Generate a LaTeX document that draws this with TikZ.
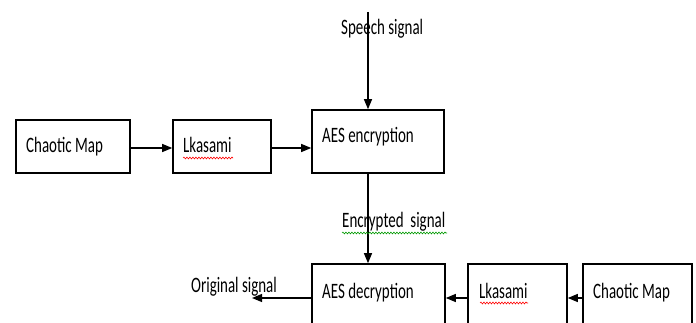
\documentclass[tikz,border=0pt]{standalone}
\usepackage{fontspec}
\setmainfont{Carlito}[FakeStretch=0.68]
\usetikzlibrary{arrows.meta,decorations.pathmorphing}
\begin{document}
\begin{tikzpicture}[x=1pt,y=-1pt,
  blk/.style={draw,line width=1.6pt,inner sep=0pt},
  lbl/.style={anchor=base west,inner sep=0pt,font=\fontsize{22}{24}\selectfont},
  conn/.style={line width=1.2pt,-{Triangle[length=10pt,width=8pt]}},
  wavy/.style={decorate,decoration={snake,amplitude=0.9pt,segment length=3pt},line width=0.6pt}]
\useasboundingbox (0,0) rectangle (696,323);
\clip (0,0) rectangle (696,323);
% upper boxes
\node[blk,minimum width=114pt,minimum height=53pt] (cm1) at (73,146.5) {};
\node[blk,minimum width=98pt,minimum height=53pt] (lk1) at (222,146.5) {};
\node[blk,minimum width=132pt,minimum height=63pt] (enc) at (378,141.5) {};
% lower boxes (cut by the lower edge)
\node[blk,minimum width=133pt,minimum height=80pt] (dec) at (378.5,304) {};
\node[blk,minimum width=99pt,minimum height=80pt] (lk2) at (517.5,304) {};
\node[blk,minimum width=109pt,minimum height=80pt] (cm2) at (637.5,304) {};
% texts
\node[lbl] (tcm1) at (26,153) {Chaotic Map};
\node[lbl] (tlk1) at (183,153) {Lkasami};
\node[lbl] (tenc) at (322,143) {AES encryption};
\node[lbl] (tdec) at (322,298) {AES decryption};
\node[lbl] (tlk2) at (479,298) {Lkasami};
\node[lbl] (tcm2) at (593,298) {Chaotic Map};
\node[lbl] (tsp) at (341,35) {Speech signal};
\node[lbl] (tes) at (342,228) {Encrypted\ \ signal};
\node[lbl] (tor) at (191,292) {Original signal};
% connectors
\coordinate (top) at (368,12);
\coordinate (out) at (252,298);
\draw[conn] (cm1.east |- 0,148) -- (lk1.west |- 0,148);
\draw[conn] (lk1.east |- 0,148) -- (enc.west |- 0,148);
\draw[conn] (top) -- (top |- enc.north);
\draw[conn] (top |- enc.south) -- (top |- dec.north);
\draw[conn] (cm2.west |- 0,298) -- (lk2.east |- 0,298);
\draw[conn] (lk2.west |- 0,298) -- (dec.east |- 0,298);
\draw[conn] (dec.west |- out) -- (out);
% spell-check underlines
\draw[wavy,red] (183,158) -- (233,158);
\draw[wavy,red] (480,303) -- (528,303);
\draw[wavy,green!60!black] (342,233) -- (447,233);
\end{tikzpicture}
\end{document}
